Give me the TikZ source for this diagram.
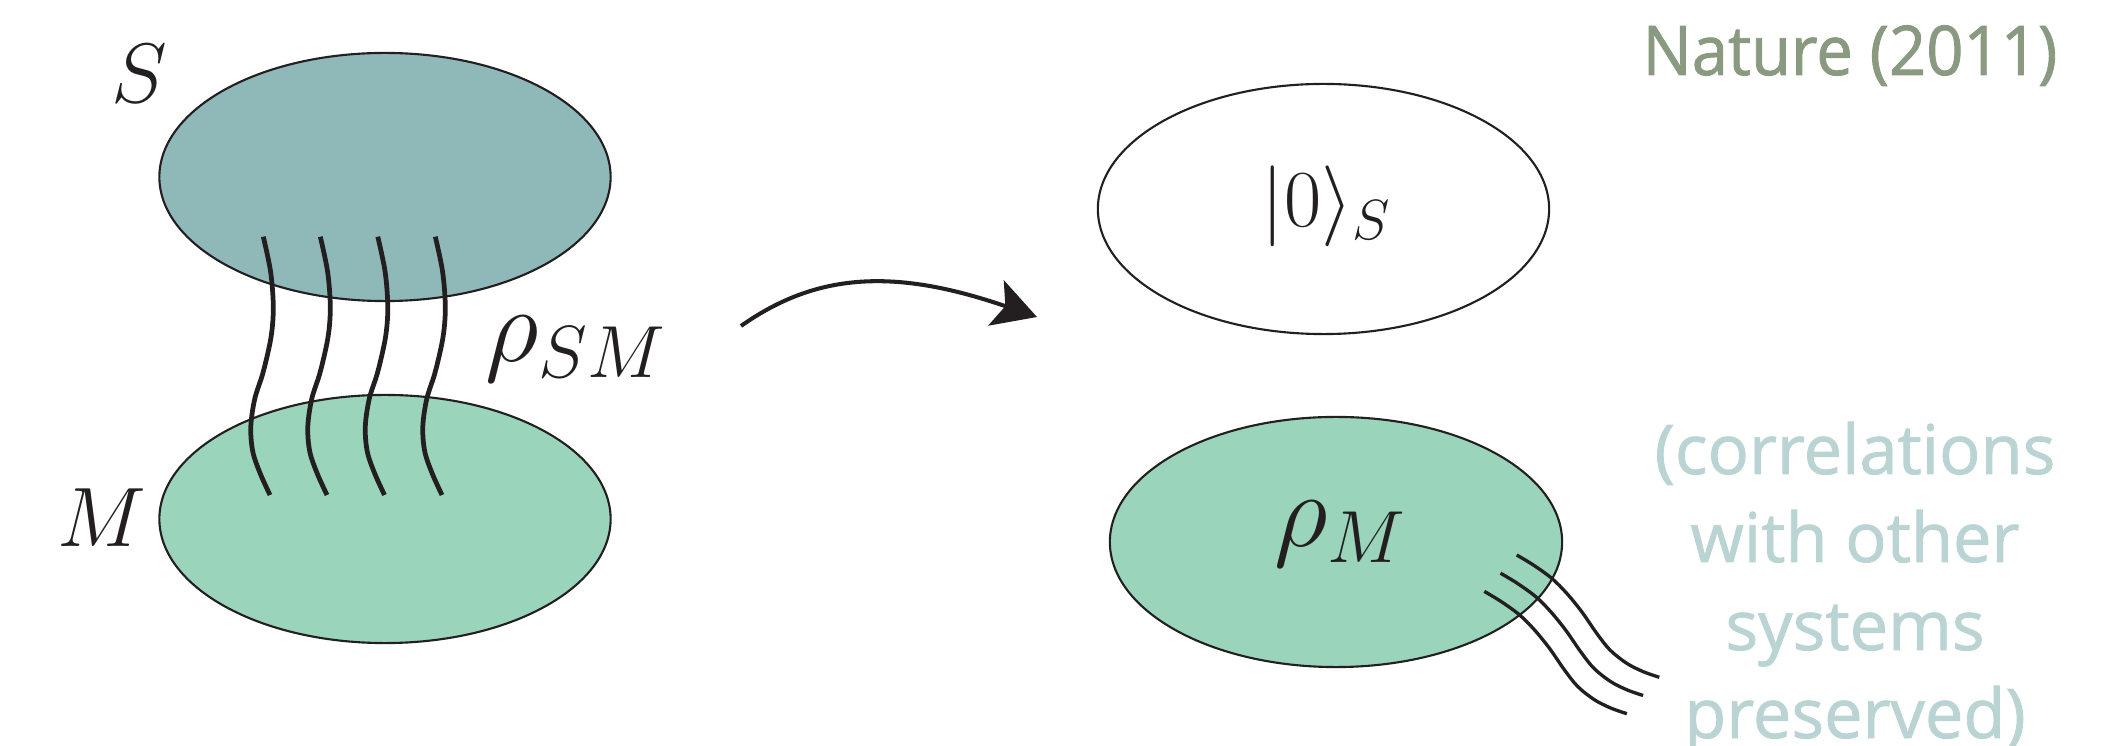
\RequirePackage{fix-cm}
\documentclass[tikz,border=0pt]{standalone}
\usepackage{fontspec}
\newfontfamily\natfont[FakeBold=1.2,FakeStretch=0.95]{Open Sans}
\newfontfamily\corrfont[FakeBold=1.2]{Open Sans}
\usetikzlibrary{arrows.meta}
\definecolor{sysfill}{HTML}{8FB9B9}
\definecolor{memfill}{HTML}{9AD4BB}
\definecolor{inkline}{HTML}{231F20}
\definecolor{natgreen}{HTML}{8A9A80}
\definecolor{corrblue}{HTML}{B9D4D3}
\tikzset{
  blob/.style={draw=inkline, line width=0.6pt},
  wire/.style={draw=inkline, line width=1.35pt},
  corrwire/.style={draw=inkline, line width=0.95pt},
  mathlabel/.style={inner sep=0pt, anchor=base west, text=inkline},
  corrtext/.style={inner sep=0pt, anchor=base, text=corrblue, font=\corrfont\fontsize{19.5}{24}\selectfont},
}
\begin{document}
\begin{tikzpicture}[x=0.01cm,y=-0.01cm]
    \useasboundingbox (0,0) rectangle (2123,746);
    \coordinate (S) at (385,177);
    \coordinate (M) at (385,519);
    \coordinate (S0) at (1323.5,209);
    \coordinate (M0) at (1336,542);
    \filldraw[blob, fill=sysfill] (S) ellipse (2.255cm and 1.24cm);
    \filldraw[blob, fill=memfill] (M) ellipse (2.255cm and 1.24cm);
    \filldraw[blob, fill=white] (S0) ellipse (2.255cm and 1.25cm);
    \filldraw[blob, fill=memfill] (M0) ellipse (2.26cm and 1.25cm);
    \foreach \dx in {0,57,114.5,172}
        \draw[wire, shift={(263.3+\dx,236.7)}] plot[smooth, tension=0.55] coordinates {(0,0) (7.3,35) (10,70) (7.8,100) (0,135) (-8.5,162) (-12.5,190) (-10.5,215) (-3,237) (6.7,258.3)};
    \foreach \k in {0,1,2}
        \draw[corrwire, shift={(-16.2*\k,18.2*\k)}] plot[smooth, tension=0.55] coordinates {(1516.7,555) (1533.3,565) (1551.7,578.3) (1566.7,593.3) (1581.7,611.7) (1596.7,633.3) (1610,650) (1626.7,663.3) (1643.3,671.7) (1659.3,677.3)};
    \node[mathlabel, font=\fontsize{24}{28}\selectfont] (labS) at (111,103) {$S$};
    \node[mathlabel, font=\fontsize{24}{28}\selectfont] (labM) at (57,547) {$M$};
    \node[mathlabel, font=\fontsize{30}{36}\selectfont] (rhoSM) at (485,362) {$\rho_{SM}$};
    \node[mathlabel, font=\fontsize{23}{28}\selectfont] (ket) at (1261,227) {$|0\rangle_S$};
    \node[mathlabel, font=\fontsize{30}{36}\selectfont] (rhoM) at (1274,547) {$\rho_M$};
    \coordinate (arrS) at (741,326);
    \coordinate (arrE) at (1037,317);
    \draw[line width=1.15pt, draw=inkline, -{Stealth[length=12.3pt, width=13.6pt, inset=2.8pt]}] (arrS) .. controls (820,270) and (900,270) .. (arrE);
    \node[anchor=base, inner sep=0pt, text=natgreen, font=\natfont\fontsize{19.5}{24}\selectfont] (nature) at (1850,75) {Nature (2011)};
    \foreach \txt [count=\k from 0] in {{(correlations},{with other},{systems},{preserved)}}
        \node[corrtext] (corr\k) at (1855,{474+88*\k}) {\txt};
\end{tikzpicture}
\end{document}
